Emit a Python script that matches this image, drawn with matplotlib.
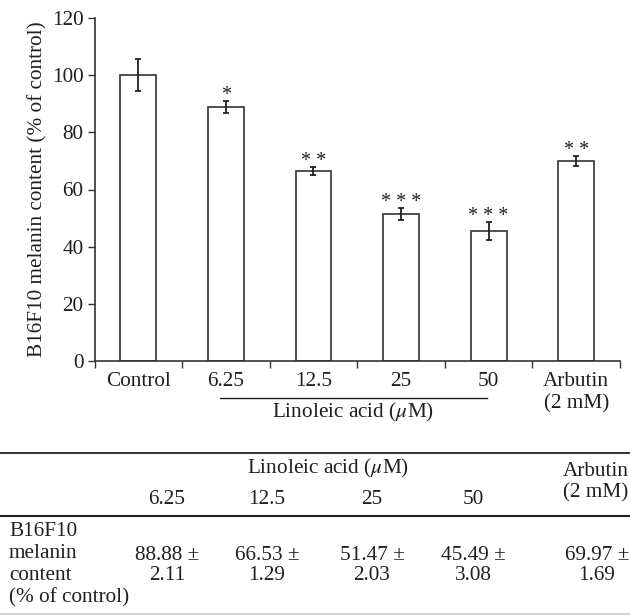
import matplotlib
matplotlib.use('Agg')
import matplotlib.pyplot as plt
import matplotlib.transforms as mtransforms
import numpy as np

plt.rcParams['font.family'] = ['Liberation Serif', 'DejaVu Serif']
plt.rcParams['mathtext.fontset'] = 'stix'

# datos
categorias = ['Control', '6.25', '12.5', '25', '50', 'Arbutin\n(2 mM)']
medias = [100.0, 88.88, 66.53, 51.47, 45.49, 69.97]
desv = [5.5, 2.11, 1.29, 2.03, 3.08, 1.69]
estrellas = ['', '*', '* *', '* * *', '* * *', '* *']
conc_tabla = ['6.25', '12.5', '25', '50']
yticks = [0, 20, 40, 60, 80, 100, 120]

color_txt = '#231f20'
color_borde = '#333333'
fs = 15.3

fig = plt.figure(figsize=(6.30, 6.16), dpi=100)
ax = fig.add_axes([94.5 / 630, 1 - 361 / 616, (620 - 94.5) / 630, (361 - 18) / 616])

x = np.arange(len(categorias))
ax.bar(x, medias, width=0.41, color='white', edgecolor=color_borde, linewidth=1.2, zorder=2)
ax.errorbar(x, medias, yerr=desv, fmt='none', ecolor=color_txt, elinewidth=1.3,
            capsize=2.5, capthick=1.3, zorder=3)
for xi, m, s, st in zip(x, medias, desv, estrellas):
    if st:
        ax.text(xi, m + s - 1.3, st, ha='center', va='bottom', fontsize=14.5, color=color_txt)

ax.set_xlim(-0.5, len(categorias) - 0.5)
ax.set_ylim(0, 120)
ax.set_yticks(yticks)
ax.set_xticks(x)
ax.set_xticklabels(categorias, fontsize=fs, color=color_txt, linespacing=1.2, va='top')
ax.set_xticks(np.arange(-0.5, len(categorias)), minor=True)
ax.tick_params(axis='x', which='major', length=0, pad=8)
ax.tick_params(axis='x', which='minor', length=5, width=1.0, direction='out', color=color_borde)
ax.tick_params(axis='y', length=5, width=1.0, direction='out', color=color_borde,
               labelsize=fs, labelcolor=color_txt, pad=3)
for lado in ['top', 'right']:
    ax.spines[lado].set_visible(False)
for lado in ['left', 'bottom']:
    ax.spines[lado].set_color(color_borde)
    ax.spines[lado].set_linewidth(1.2)
ax.set_ylabel('B16F10 melanin content (% of control)', fontsize=fs, color=color_txt, labelpad=3)

# linea y etiqueta de acido linoleico bajo el eje
trans = mtransforms.blended_transform_factory(ax.transData, ax.transAxes)
ax.plot([0.93, 3.98], [-0.108, -0.108], color=color_txt, lw=1.0, transform=trans, clip_on=False)
ax.text(2.45, -0.149, 'Linoleic acid ($\\mu$M)', transform=trans, ha='center', va='center',
        fontsize=fs, color=color_txt)

# tabla inferior, en coordenadas de pixel
tab = fig.add_axes([0, 0, 1, 1], zorder=-1)
tab.set_xlim(0, 630)
tab.set_ylim(616, 0)
tab.axis('off')

tab.plot([0, 630], [453, 453], color=color_txt, lw=1.3)
tab.plot([0, 630], [515.5, 515.5], color=color_txt, lw=1.5)
tab.plot([0, 630], [614, 614], color='#cccccc', lw=1.2)

col_x = [167, 267, 372, 473]
tab.text(328, 468, 'Linoleic acid ($\\mu$M)', ha='center', va='center', fontsize=fs, color=color_txt)
tab.text(596, 472, 'Arbutin', ha='center', va='center', fontsize=fs, color=color_txt)
tab.text(596, 493, '(2 mM)', ha='center', va='center', fontsize=fs, color=color_txt)
for cx, c in zip(col_x, conc_tabla):
    tab.text(cx, 499, c, ha='center', va='center', fontsize=fs, color=color_txt)

for yy, linea in zip([531, 554, 576, 598], ['B16F10', 'melanin', 'content', '(% of control)']):
    tab.text(9, yy, linea, ha='left', va='center', fontsize=fs, color=color_txt)

val_x = col_x + [597]
for cx, m, s in zip(val_x, medias[1:], desv[1:]):
    tab.text(cx, 556, f'{m:.2f} \u00b1', ha='center', va='center', fontsize=fs, color=color_txt)
    tab.text(cx, 576, f'{s:.2f}', ha='center', va='center', fontsize=fs, color=color_txt)

fig.savefig('out.png', dpi=100)
